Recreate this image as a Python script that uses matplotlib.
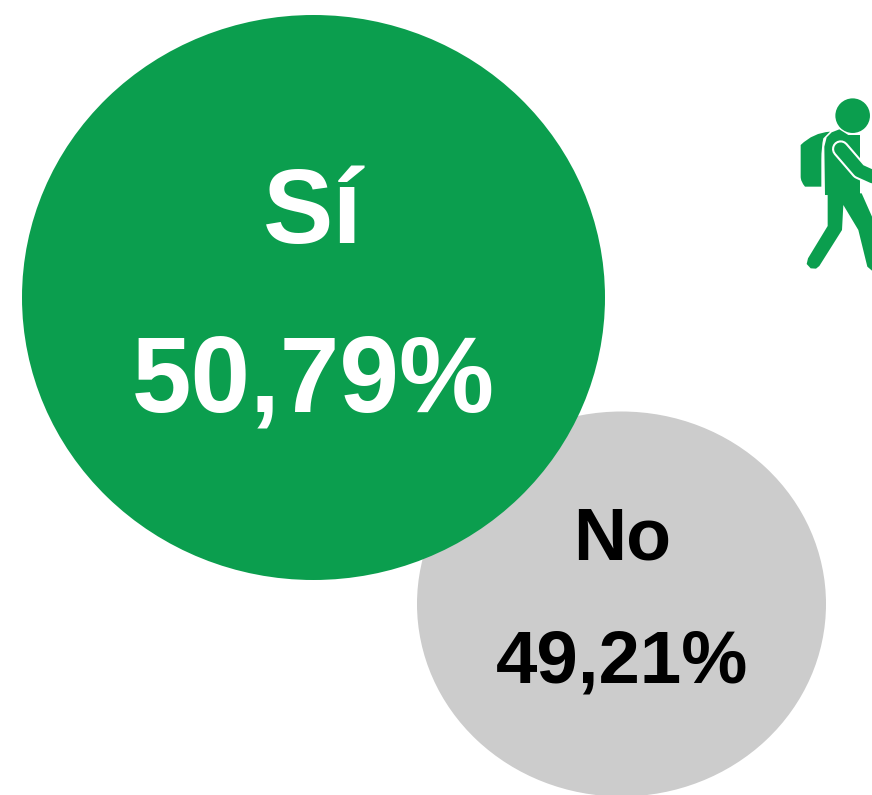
import matplotlib
matplotlib.use("Agg")
import matplotlib.pyplot as plt
from matplotlib.patches import Ellipse, Polygon, Circle, PathPatch
from matplotlib.path import Path

categories = ["Sí", "No"]
values = ["50,79%", "49,21%"]
colors = ["#0B9E4E", "#CCCCCC"]
text_colors = ["white", "black"]
GREEN = "#0B9E4E"

plt.rcParams["font.family"] = ["Liberation Sans", "DejaVu Sans"]
fig = plt.figure(figsize=(8.72, 7.95), dpi=100)
ax = fig.add_axes([0, 0, 1, 1])
ax.set_xlim(0, 872)
ax.set_ylim(795, 0)
ax.axis("off")

# Bubbles: grey first so the green one overlaps it
ax.add_patch(Ellipse((621.5, 604), 409, 385, fc=colors[1], ec="none", zorder=1))
ax.add_patch(Ellipse((313.5, 297.5), 583, 565, fc=colors[0], ec="none", zorder=2))

ax.text(313, 204, categories[0], color=text_colors[0], fontsize=76, fontweight="bold",
        ha="center", va="center_baseline", zorder=3)
ax.text(313, 372, values[0], color=text_colors[0], fontsize=77, fontweight="bold",
        ha="center", va="center_baseline", zorder=3)
ax.text(622, 532, categories[1], color=text_colors[1], fontsize=53, fontweight="bold",
        ha="center", va="center_baseline", zorder=3)
ax.text(622, 655, values[1], color=text_colors[1], fontsize=53.6, fontweight="bold",
        ha="center", va="center_baseline", zorder=3)


def z(p):
    return [(780 + x / 3, 80 + y / 3) for x, y in p]


# Walker icon
ax.add_patch(Circle(z([(218, 107)])[0], 17.3, fc=GREEN, ec="none", zorder=3))
back_verts = z([(150, 155), (100, 158), (62, 195), (62, 290), (62, 305), (75, 320),
                (95, 320), (124, 320), (124, 240), (124, 200), (130, 175), (150, 155)])
back_codes = [Path.MOVETO, Path.CURVE3, Path.CURVE3, Path.LINETO, Path.CURVE3, Path.CURVE3,
              Path.LINETO, Path.LINETO, Path.LINETO, Path.CURVE3, Path.CURVE3, Path.CLOSEPOLY]
ax.add_patch(PathPatch(Path(back_verts, back_codes), fc=GREEN, ec="none", zorder=3))
ax.add_patch(Polygon(z([(178, 148), (205, 165), (240, 165), (240, 347), (135, 345),
                        (133, 200), (140, 172), (155, 157)]),
                     fc=GREEN, ec="none", zorder=3))
ax.add_patch(Polygon(z([(143, 340), (143, 438), (84, 535), (80, 552), (92, 565), (108, 566),
                        (118, 558), (186, 450), (190, 375), (235, 450), (262, 560),
                        (276, 572), (295, 572), (300, 540), (276, 410), (245, 340)]),
                     fc=GREEN, ec="none", zorder=3))
arm = z([(182, 207), (238, 272), (300, 300)])
ax.plot(*zip(*arm), color="white", lw=12.5, solid_capstyle="round", solid_joinstyle="round", zorder=4)
ax.plot(*zip(*arm), color=GREEN, lw=9.5, solid_capstyle="round", solid_joinstyle="round", zorder=5)

fig.savefig("out.png", dpi=100, facecolor="white")
